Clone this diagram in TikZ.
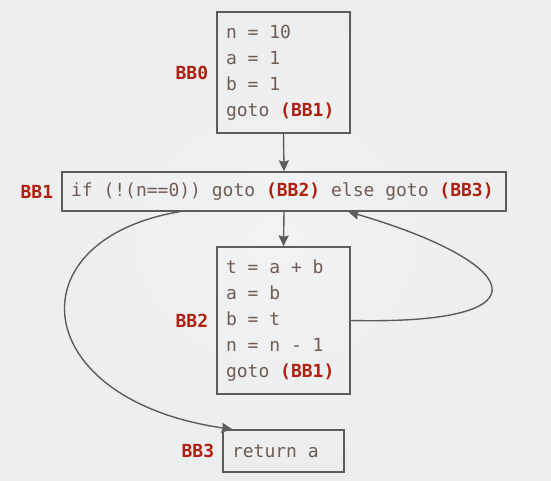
\documentclass[tikz,border=0pt]{standalone}
\usepackage{fontspec}
\setmonofont{DejaVu Sans Mono}
\usepackage{xcolor}
\usetikzlibrary{positioning,calc,arrows.meta}

\definecolor{bgcol}{HTML}{EBEDEF}
\definecolor{bgmid}{HTML}{F1F2F4}
\definecolor{codecol}{HTML}{705C52}
\definecolor{bbred}{HTML}{B0200F}
\definecolor{edgecol}{HTML}{5C5C5C}

\newcommand{\bbref}[1]{\textbf{\color{bbred}#1}}

\begin{document}
\begin{tikzpicture}[x=1pt,y=-1pt,
        block/.style={draw=edgecol, line width=1.3pt, fill=none, align=flush left,
            text=codecol, anchor=center, inner xsep=9pt, inner ysep=0pt,
            font=\ttfamily\fontsize{18}{26}\selectfont},
        bblabel/.style={anchor=east, inner sep=0pt, text=bbred,
            font=\ttfamily\bfseries\fontsize{18}{26}\selectfont},
        flow/.style={draw=edgecol, line width=1.4pt,
            -{Stealth[length=11pt,width=10pt,inset=1.5pt]}}]
        % background
        \shade[inner color=bgmid, outer color=bgcol] (0,0) rectangle (551,480);
        \useasboundingbox (0,0) rectangle (551,480);

        % basic blocks
        \node[block, minimum width=133pt, minimum height=121pt, text width=115pt]
            (bb0) at (283.5,72.5) {n = 10\\a = 1\\b = 1\\goto \bbref{(BB1)}};
        \node[block, minimum width=444pt, minimum height=39pt, text width=426pt]
            (bb1) at (284,191.5) {if (!(n==0)) goto \bbref{(BB2)} else goto \bbref{(BB3)}};
        \node[block, minimum width=133pt, minimum height=147pt, text width=115pt]
            (bb2) at (283.5,320.5) {t = a + b\\a = b\\b = t\\n = n - 1\\goto \bbref{(BB1)}};
        \node[block, minimum width=121pt, minimum height=42pt, text width=103pt]
            (bb3) at (283.5,451) {return a};

        % labels
        \node[bblabel, left=8pt of bb0] (lab0) {BB0};
        \node[bblabel, left=8pt of bb1] (lab1) {BB1};
        \node[bblabel, left=8pt of bb2] (lab2) {BB2};
        \node[bblabel, left=8pt of bb3] (lab3) {BB3};

        % edges
        \draw[flow] (bb0.south) -- (bb1.north);
        \draw[flow] (bb1.south) -- (bb2.north);
        \draw[flow] ($(bb1.south west)!0.266!(bb1.south east)$)
            .. controls (12,240) and (28,400) .. ($(bb3.north west)!0.083!(bb3.north east)$);
        \draw[flow] (bb2.east)
            .. controls (556,325) and (520,262) .. ($(bb1.south west)!0.644!(bb1.south east)$);
\end{tikzpicture}
\end{document}
